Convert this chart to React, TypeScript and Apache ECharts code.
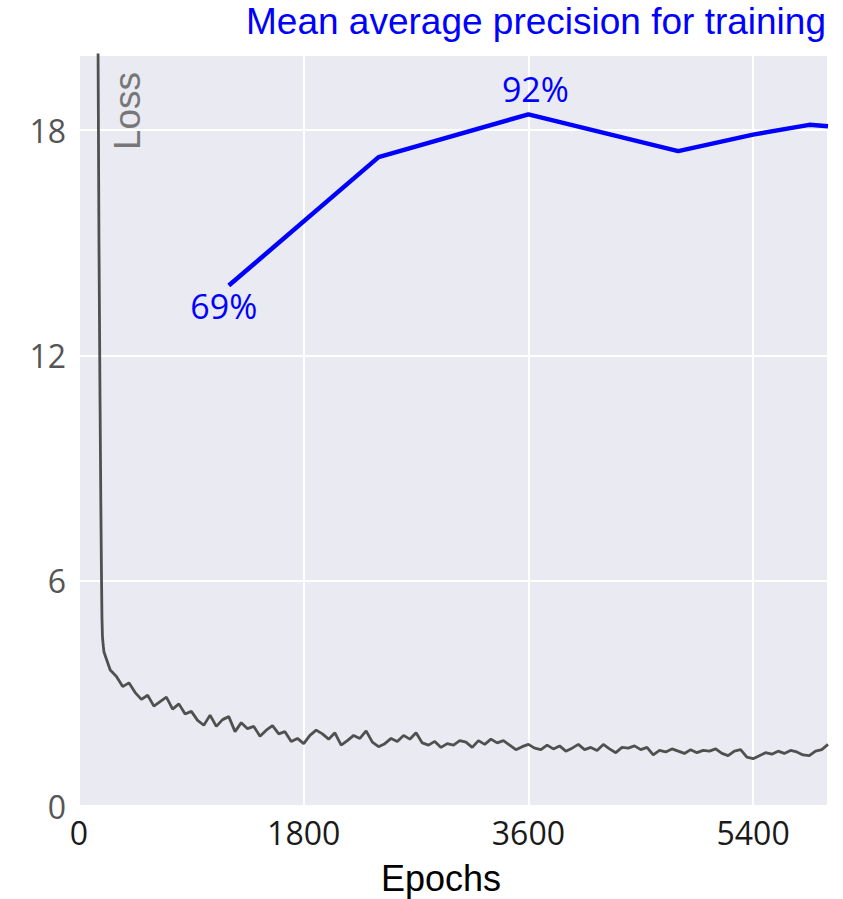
import React, { useEffect, useRef } from "react";
import * as echarts from "echarts";

// Loss curve: steep head (explicit epochs) then a noisy tail sampled every 50 epochs from 200
const headEpochs = [150, 160, 168, 175, 180, 184, 188, 195];
const headLoss = [22, 15, 11, 8, 6.2, 5.0, 4.5, 4.25];
const tailStart = 200;
const tailStep = 50;
const tailLoss = [
  4.10, 3.62, 3.45, 3.18, 3.28, 3.02, 2.84, 2.95, 2.66, 2.78,
  2.90, 2.58, 2.72, 2.45, 2.52, 2.28, 2.15, 2.42, 2.12, 2.30,
  2.38, 1.98, 2.22, 2.06, 2.12, 1.86, 2.02, 2.14, 1.92, 1.98,
  1.72, 1.80, 1.66, 1.88, 2.02, 1.92, 1.78, 1.95, 1.62, 1.74,
  1.88, 1.80, 2.00, 1.70, 1.58, 1.66, 1.80, 1.72, 1.88, 1.78,
  1.95, 1.68, 1.62, 1.72, 1.56, 1.66, 1.62, 1.74, 1.70, 1.56,
  1.74, 1.64, 1.78, 1.68, 1.74, 1.62, 1.50, 1.58, 1.64, 1.54,
  1.50, 1.62, 1.52, 1.60, 1.46, 1.54, 1.64, 1.50, 1.56, 1.48,
  1.64, 1.52, 1.42, 1.56, 1.54, 1.60, 1.50, 1.56, 1.36, 1.48,
  1.44, 1.52, 1.46, 1.40, 1.50, 1.42, 1.48, 1.46, 1.52, 1.40,
  1.34, 1.46, 1.50, 1.30, 1.26, 1.34, 1.42, 1.38, 1.46, 1.40,
  1.48, 1.44, 1.36, 1.34, 1.46, 1.50, 1.64,
];

// Mean average precision (%)
const mapEpochs = [1200, 2400, 3600, 4800, 5400, 5850, 6000];
const mapValues = [69.3, 86.4, 92.1, 87.2, 89.4, 90.7, 90.5];
const mapLabelIdx = [0, 2];

const xTicks = [0, 1800, 3600, 5400];
const yTicks = [0, 6, 12, 18];

const TITLE = "Mean average precision for training";
const X_NAME = "Epochs";
const Y_NAME = "Loss";

export default function App() {
  const ref = useRef<HTMLDivElement>(null);
  useEffect(() => {
    if (!ref.current) return;
    const chart = echarts.init(ref.current, null, { renderer: "svg" });

    const lossData: number[][] = headEpochs.map((e, i) => [e, headLoss[i]]);
    tailLoss.forEach((v, i) => lossData.push([tailStart + i * tailStep, v]));

    const mapData = mapEpochs.map((e, i) => {
      const item: any = { value: [e, mapValues[i]] };
      if (mapLabelIdx.includes(i)) {
        const first = i === 0;
        item.label = {
          show: true,
          position: first ? "bottom" : "top",
          distance: first ? 3 : 8,
          offset: first ? [-5, 0] : [7, 0],
          formatter: Math.round(mapValues[i]) + "%",
          color: "#0000FF",
          fontFamily: "Open Sans",
          fontSize: 34,
        };
      }
      return item;
    });

    chart.setOption({
      animation: false,
      grid: {
        left: 79,
        top: 55,
        right: 15,
        bottom: 93,
        show: true,
        backgroundColor: "#EAEAF2",
        borderWidth: 0,
      },
      xAxis: {
        type: "value",
        min: 0,
        max: 6000,
        interval: 1800,
        axisLine: { show: false },
        axisTick: { show: false },
        axisLabel: {
          margin: 10,
          color: "#1a1a1a",
          fontFamily: "Open Sans",
          fontSize: 32,
          formatter: (v: number) => (xTicks.includes(v) ? String(v) : ""),
        },
        splitLine: { show: true, lineStyle: { color: "#ffffff", width: 2 } },
      },
      yAxis: [
        {
          type: "value",
          min: 0,
          max: 20,
          interval: 6,
          axisLine: { show: false },
          axisTick: { show: false },
          axisLabel: {
            margin: 13,
            color: "#555555",
            fontFamily: "Open Sans",
            fontSize: 32,
            formatter: (v: number) => (yTicks.includes(v) ? String(v) : ""),
          },
          splitLine: { show: true, lineStyle: { color: "#ffffff", width: 2 } },
        },
        {
          type: "value",
          min: 0,
          max: 100,
          show: false,
          splitLine: { show: false },
        },
      ],
      series: [
        {
          type: "line",
          data: lossData,
          yAxisIndex: 0,
          showSymbol: false,
          symbol: "none",
          clip: true,
          lineStyle: { color: "#505050", width: 2.8 },
          z: 2,
        },
        {
          type: "line",
          data: mapData,
          yAxisIndex: 1,
          symbol: "circle",
          symbolSize: 0.01,
          showSymbol: true,
          itemStyle: { color: "#0000FF" },
          lineStyle: { color: "#0000FF", width: 4.5 },
          z: 3,
        },
      ],
      graphic: [
        {
          type: "text",
          right: 17,
          top: 3,
          style: {
            text: TITLE,
            fill: "#0000FF",
            font: "37px 'Liberation Sans', Arial, sans-serif",
          },
        },
        {
          type: "text",
          x: 441,
          y: 878,
          style: {
            text: X_NAME,
            fill: "#000000",
            font: "36px 'Liberation Sans', Arial, sans-serif",
            textAlign: "center",
            textVerticalAlign: "middle",
          },
        },
        {
          type: "text",
          x: 127,
          y: 111,
          rotation: Math.PI / 2,
          style: {
            text: Y_NAME,
            fill: "#777777",
            font: "37px 'Liberation Sans', Arial, sans-serif",
            textAlign: "center",
            textVerticalAlign: "middle",
          },
        },
      ],
    });

    return () => chart.dispose();
  }, []);

  return <div ref={ref} style={{ width: 843, height: 899, position: "absolute", left: 0, top: 0 }} />;
}
